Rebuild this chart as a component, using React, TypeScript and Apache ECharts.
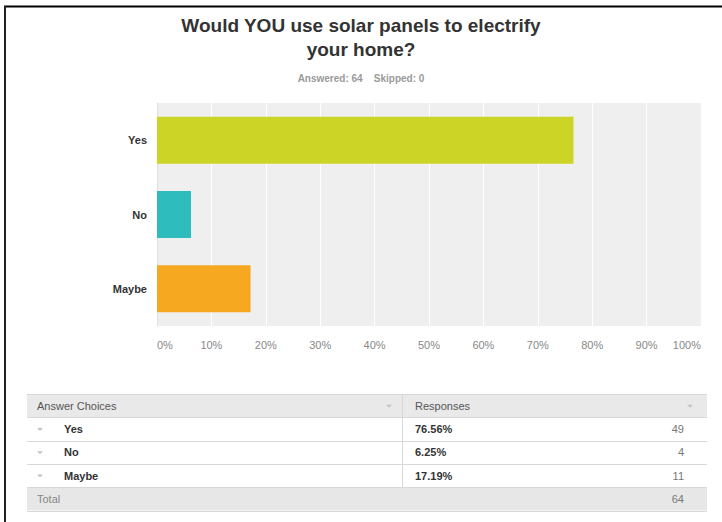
import React, { useEffect, useRef } from "react";
import * as echarts from "echarts";

const categories = ["Yes", "No", "Maybe"];
const percents = [76.56, 6.25, 17.19];
const counts = [49, 4, 11];
const barColors = ["#ccd425", "#2fbcbc", "#f6a821"];
const xTicks = [0, 10, 20, 30, 40, 50, 60, 70, 80, 90, 100];
const answered = 64;
const skipped = 0;
const total = 64;
const titleText = "Would YOU use solar panels to electrify\nyour home?";
const headerChoices = "Answer Choices";
const headerResponses = "Responses";
const totalLabel = "Total";

const FONT = "'Liberation Sans', Arial, Helvetica, sans-serif";

function tri(x: number, y: number, color = "#c4c4c4") {
  return {
    type: "polygon",
    shape: { points: [[x, y], [x + 6, y], [x + 3, y + 3]] },
    style: { fill: color },
    silent: true,
  };
}

function buildTable() {
  const L = 27, R = 707, MID = 402;
  const headTop = 394, rowH = 23.3;
  const els: any[] = [];
  els.push({ type: "rect", shape: { x: L, y: headTop, width: R - L, height: rowH }, style: { fill: "#e9e9e9" } });
  const totalTop = headTop + rowH * (categories.length + 1);
  els.push({ type: "rect", shape: { x: L, y: totalTop, width: R - L, height: rowH }, style: { fill: "#e7e7e7" } });
  for (let i = 0; i <= categories.length + 2; i++) {
    const y = Math.round(headTop + rowH * i) + 0.5;
    els.push({ type: "line", shape: { x1: L, y1: y, x2: R, y2: y }, style: { stroke: "#d8d8d8", lineWidth: 1 } });
  }
  els.push({ type: "line", shape: { x1: MID + 0.5, y1: headTop, x2: MID + 0.5, y2: totalTop }, style: { stroke: "#d8d8d8", lineWidth: 1 } });
  const ts = (text: string, x: number, y: number, opts: any = {}) => ({
    type: "text",
    x, y,
    style: {
      text, fontFamily: FONT, fontSize: 11, fill: opts.fill || "#555",
      fontWeight: opts.bold ? "bold" : "normal",
      textAlign: opts.align || "left", textVerticalAlign: "middle",
    },
    silent: true,
  });
  const hy = headTop + rowH / 2;
  els.push(ts(headerChoices, 37, hy));
  els.push(ts(headerResponses, 415, hy));
  els.push(tri(386, hy - 1));
  els.push(tri(687, hy - 1));
  categories.forEach((c, i) => {
    const cy = headTop + rowH * (i + 1) + rowH / 2;
    els.push(tri(37, cy - 1));
    els.push(ts(c, 64, cy, { bold: true, fill: "#333" }));
    els.push(ts(percents[i].toFixed(2) + "%", 415, cy, { bold: true, fill: "#333" }));
    els.push(ts(String(counts[i]), 684, cy, { fill: "#777", align: "right" }));
  });
  const ty = totalTop + rowH / 2;
  els.push(ts(totalLabel, 37, ty, { fill: "#888" }));
  els.push(ts(String(total), 684, ty, { fill: "#777", align: "right" }));
  els.push({ type: "line", shape: { x1: 4, y1: 6.5, x2: 722, y2: 6.5 }, style: { stroke: "#000", lineWidth: 2 } });
  els.push({ type: "line", shape: { x1: 5, y1: 6, x2: 5, y2: 522 }, style: { stroke: "#222", lineWidth: 2 } });
  return els;
}

export default function App() {
  const ref = useRef<HTMLDivElement>(null);
  useEffect(() => {
    if (!ref.current) return;
    const chart = echarts.init(ref.current, undefined, { renderer: "svg" });
    chart.setOption({
      animation: false,
      backgroundColor: "#ffffff",
      title: [
        {
          text: titleText,
          left: "center",
          top: 8,
          textStyle: { fontFamily: FONT, fontSize: 19, fontWeight: "bold", color: "#333", lineHeight: 24 },
        },
        {
          text: `Answered: ${answered}    Skipped: ${skipped}`,
          left: "center",
          top: 68,
          textStyle: { fontFamily: FONT, fontSize: 10, fontWeight: "bold", color: "#9a9a9a" },
        },
      ],
      grid: { left: 157, right: 21, top: 103, bottom: 196, show: true, backgroundColor: "#efefef", borderWidth: 0 },
      xAxis: {
        type: "value",
        min: 0,
        max: 100,
        interval: 10,
        axisLine: { show: false },
        axisTick: { show: false },
        splitLine: { show: true, lineStyle: { color: "#ffffff", width: 1 } },
        axisLabel: {
          formatter: (v: number) => (xTicks.includes(v) ? v + "%" : ""),
          color: "#888",
          fontFamily: FONT,
          fontSize: 11,
          margin: 13,
          alignMinLabel: "left",
          alignMaxLabel: "right",
        },
      },
      yAxis: {
        type: "category",
        data: categories,
        inverse: true,
        axisLine: { show: true, lineStyle: { color: "#e0e0e0" } },
        axisTick: { show: false },
        axisLabel: { color: "#333", fontFamily: FONT, fontSize: 11, fontWeight: "bold", margin: 10 },
      },
      series: [
        {
          type: "bar",
          barWidth: 47,
          data: percents.map((v, i) => ({ value: v, itemStyle: { color: barColors[i] } })),
        },
      ],
      graphic: buildTable(),
    });
    return () => chart.dispose();
  }, []);
  return <div ref={ref} style={{ position: "absolute", left: 0, top: 0, width: 722, height: 522 }} />;
}
